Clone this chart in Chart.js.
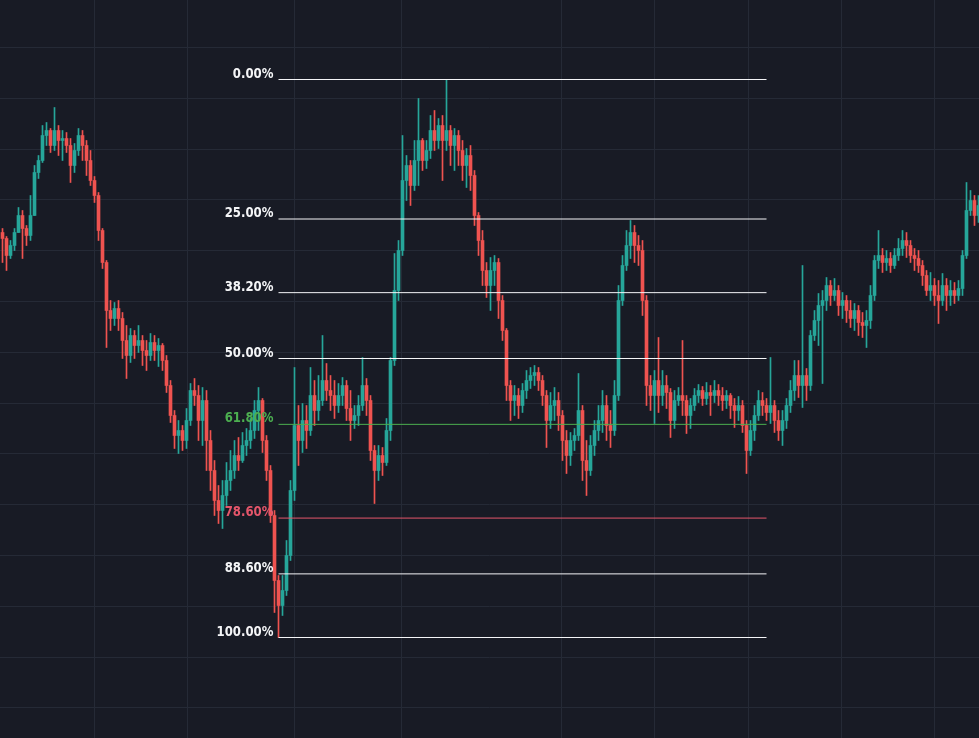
<!DOCTYPE html>
<html>
<head>
<meta charset="utf-8">
<script src="https://cdn.jsdelivr.net/npm/chart.js@4.4.1/dist/chart.umd.min.js"></script>
<style>
  html, body { margin: 0; padding: 0; background: #181b25; }
  #wrap { width: 979px; height: 738px; position: relative; }
</style>
</head>
<body>
<div id="wrap"><canvas id="fibChart"></canvas></div>
<script>
// candle prices, one entry per bar
const opens = [
  768,762,745,755,768,785,772,765,785,828, 840,865,870,855,870,860,862,855,835,850,
  865,855,840,820,805,770,738,690,682,692, 682,660,645,665,655,660,650,645,658,650,
  655,640,615,585,565,570,560,580,610,605, 580,600,560,530,500,490,505,520,530,545,
  540,555,560,570,590,600,560,530,485,420, 395,410,445,510,575,560,580,570,605,590,
  600,620,610,605,595,605,615,592,580,585, 595,615,600,550,530,545,538,570,640,710,
  750,820,835,815,840,860,840,850,870,860, 875,860,870,855,865,850,835,845,825,785,
  760,730,715,730,738,700,670,615,600,605, 595,610,620,625,628,620,605,580,595,600,
  585,560,545,560,565,590,540,530,555,570, 580,595,575,570,605,700,735,755,768,755,
  750,700,615,605,620,605,615,608,580,600, 605,600,585,595,605,610,602,608,605,610,
  605,600,605,595,590,595,575,550,570,585, 600,595,588,595,580,570,580,595,610,625,
  615,625,615,665,680,695,700,715,705,710, 695,700,690,682,690,678,675,680,705,740,
  745,738,742,735,745,752,760,755,745,742, 735,725,710,715,705,700,715,705,710,705,
  712,745,790,800,785
];
const highs = [
  772,764,760,772,793,790,775,805,835,845, 875,878,872,893,875,870,868,862,857,872,
  870,860,850,824,808,772,740,700,698,700, 688,675,672,670,675,665,660,667,665,662,
  657,645,620,590,580,575,592,617,622,615, 613,610,570,540,515,520,538,550,560,563,
  568,572,582,600,613,602,565,535,490,425, 425,460,520,633,595,597,595,633,620,625,
  665,637,625,620,617,623,620,610,595,605, 643,622,605,555,555,553,582,643,747,760,
  865,845,840,860,902,862,860,885,890,882, 885,921,875,872,870,860,852,855,830,788,
  770,738,743,745,742,705,672,620,615,612, 617,630,633,635,633,625,610,608,613,608,
  590,570,568,572,627,595,560,565,580,595, 610,605,590,620,715,745,770,780,775,765,
  760,705,625,630,663,630,625,612,610,613, 660,605,602,612,616,614,618,615,620,616,
  613,610,607,602,604,600,580,580,595,610, 608,602,643,600,590,590,602,620,640,640,
  735,632,670,690,707,710,723,720,722,715, 708,705,700,697,695,688,690,715,745,770,
  752,750,748,752,762,770,768,760,752,750, 740,730,728,722,720,727,722,720,718,720,
  750,818,810,805,805
];
const lows = [
  738,730,742,750,768,742,755,760,785,822, 838,855,848,850,845,840,848,818,828,845,
  840,825,815,798,760,732,653,670,675,670, 642,622,638,642,648,635,630,640,640,634,
  630,608,578,552,547,550,552,575,595,560, 555,530,510,485,477,472,495,510,522,530,
  538,545,552,562,570,548,520,478,388,363, 385,405,440,500,535,548,552,565,575,580,
  595,600,590,582,588,595,580,560,572,575, 590,585,540,497,520,525,535,560,635,700,
  745,800,795,810,815,830,832,842,850,852, 820,850,835,830,835,820,813,810,775,745,
  715,703,690,715,682,660,600,580,585,582, 588,602,612,615,610,595,553,572,580,570,
  540,527,535,550,560,520,505,525,545,560, 568,560,553,565,600,695,730,742,738,735,
  685,595,590,577,588,595,592,563,572,595, 585,567,572,590,598,595,596,585,598,595,
  590,592,582,573,580,568,527,545,560,580, 585,580,577,568,560,555,572,588,600,603,
  593,600,610,660,655,617,690,695,700,685, 682,678,673,670,665,663,653,672,700,732,
  728,730,728,732,740,745,743,738,730,728, 715,705,700,695,677,695,690,695,697,700,
  705,742,785,775,778
];
const closes = [
  762,745,755,768,785,772,765,785,828,840, 865,870,855,870,860,862,855,835,850,865,
  855,840,820,805,770,738,690,682,692,682, 660,645,665,655,660,650,645,658,650,655,
  640,615,585,565,570,560,580,610,605,580, 600,560,530,500,490,505,520,530,545,540,
  555,560,570,590,600,560,530,485,420,395, 410,445,510,575,560,580,570,605,590,600,
  620,610,605,595,605,615,592,580,585,595, 615,600,550,530,545,538,570,640,710,750,
  820,835,815,840,860,840,850,870,860,875, 860,870,855,865,850,835,845,825,785,760,
  730,715,730,738,700,670,615,600,605,595, 610,620,625,628,620,605,580,595,600,585,
  560,545,560,565,590,540,530,555,570,580, 595,575,570,605,700,735,755,768,755,750,
  700,615,605,620,605,615,608,580,600,605, 600,585,595,605,610,602,608,605,610,605,
  600,605,595,590,595,575,550,570,585,600, 595,588,595,580,570,580,595,610,625,615,
  625,615,665,680,695,700,715,705,710,695, 700,690,682,690,678,675,680,705,740,745,
  738,742,735,745,752,760,755,745,742,735, 725,710,715,705,700,715,705,710,705,712,
  745,790,800,785,795
];

// time grid (bar index) and price grid
const gridTimes = [22.875, 46.125, 72.875, 99.625, 139.625, 162.875, 186.375, 209.625, 232.875];
const gridPrices = [953, 902.2, 851.4, 800.6, 749.8, 699, 648.2, 597.4, 546.6, 495.8, 445, 394.2, 343.4, 292.6];

// fib retracement drawn from swing low bar to swing high bar
const fibRatios = [0, 0.25, 0.382, 0.5, 0.618, 0.786, 0.886, 1];
const fibLabels = ['0.00%', '25.00%', '38.20%', '50.00%', '61.80%', '78.60%', '88.60%', '100.00%'];
const fibColors = ['#f4f5f7', '#f4f5f7', '#f4f5f7', '#f4f5f7', '#4caf50', '#e5566b', '#f4f5f7', '#f4f5f7'];
const lowBar = 69, highBar = 111, fibEndBar = 191;

const UP = '#26a69a';
const DOWN = '#ef5350';

const swingHigh = highs[highBar];
const swingLow = lows[lowBar];
const candleColors = closes.map((c, i) => c >= opens[i] ? UP : DOWN);

const fibSets = fibRatios.map((r, k) => {
  const level = swingHigh - r * (swingHigh - swingLow);
  return {
    type: 'line',
    label: fibLabels[k],
    data: [{ x: lowBar, y: level }, { x: fibEndBar, y: level }],
    borderColor: fibColors[k],
    borderWidth: 1,
    pointRadius: 0,
    fill: false,
    order: 0
  };
});

const fibLabelPlugin = {
  id: 'fibLabels',
  afterDatasetsDraw(chart) {
    const { ctx, scales } = chart;
    const x = scales.x.getPixelForValue(lowBar) - 5;
    fibRatios.forEach((r, k) => {
      const level = swingHigh - r * (swingHigh - swingLow);
      ctx.save();
      ctx.font = 'bold 14px "DejaVu Sans Condensed", "DejaVu Sans", sans-serif';
      if ('fontStretch' in ctx) ctx.fontStretch = 'condensed';
      ctx.textAlign = 'right';
      ctx.textBaseline = 'alphabetic';
      ctx.fillStyle = fibColors[k];
      ctx.translate(x, scales.y.getPixelForValue(level) - 2);
      ctx.scale(0.93, 1);
      ctx.fillText(fibLabels[k], 0, 0);
      ctx.restore();
    });
  }
};

const ctx = document.getElementById('fibChart').getContext('2d');
new Chart(ctx, {
  type: 'bar',
  data: {
    datasets: [
      ...fibSets,
      {
        label: 'body',
        data: opens.map((o, i) => ({ x: i, y: [o, closes[i]] })),
        backgroundColor: candleColors,
        barThickness: 3,
        grouped: false,
        order: 1
      },
      {
        label: 'wick',
        data: highs.map((h, i) => ({ x: i, y: [lows[i], h] })),
        backgroundColor: candleColors,
        barThickness: 1,
        grouped: false,
        order: 2
      }
    ]
  },
  options: {
    responsive: true,
    maintainAspectRatio: false,
    animation: false,
    events: [],
    layout: { padding: 0 },
    plugins: { legend: { display: false }, tooltip: { enabled: false } },
    scales: {
      x: {
        type: 'linear',
        min: -0.625,
        max: 244.125,
        offset: false,
        afterBuildTicks: (axis) => { axis.ticks = gridTimes.map(v => ({ value: v })); },
        ticks: { display: false },
        grid: { color: '#252a36', drawTicks: false, offset: false },
        border: { display: false }
      },
      y: {
        type: 'linear',
        min: 262.5,
        max: 1000.5,
        afterBuildTicks: (axis) => { axis.ticks = gridPrices.map(v => ({ value: v })); },
        ticks: { display: false },
        grid: { color: '#252a36', drawTicks: false },
        border: { display: false }
      }
    }
  },
  plugins: [fibLabelPlugin]
});
</script>
</body>
</html>
